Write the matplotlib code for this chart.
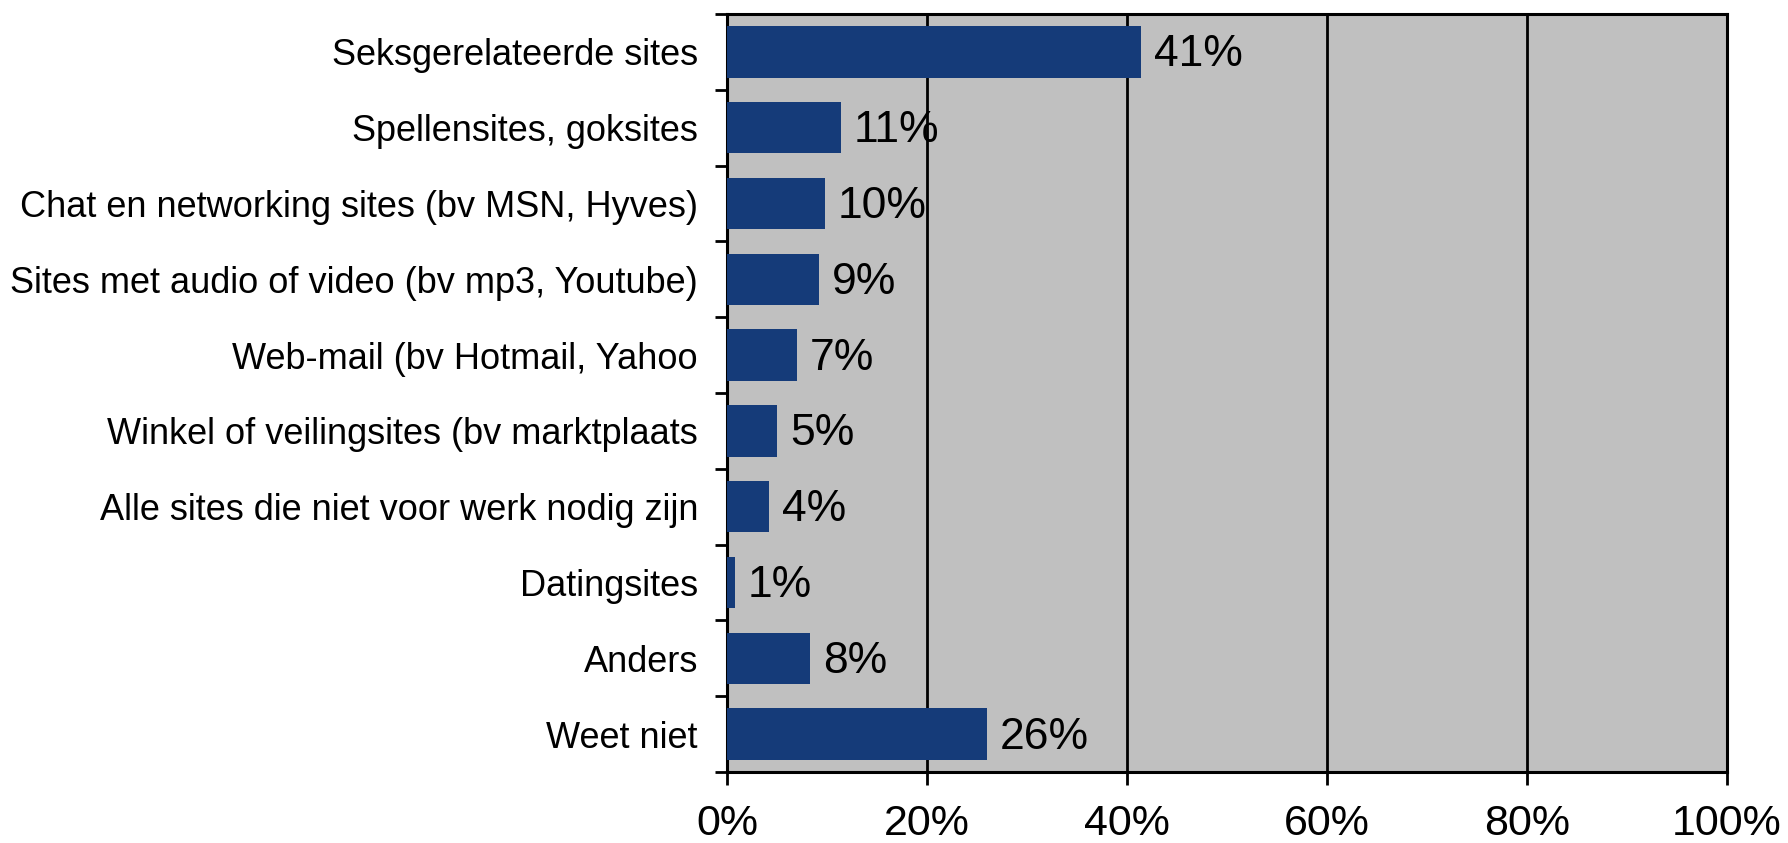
import matplotlib
matplotlib.use("Agg")
import matplotlib.pyplot as plt
import numpy as np

categories = [
    "Seksgerelateerde sites",
    "Spellensites, goksites",
    "Chat en networking sites (bv MSN, Hyves)",
    "Sites met audio of video (bv mp3, Youtube)",
    "Web-mail (bv Hotmail, Yahoo",
    "Winkel of veilingsites (bv marktplaats",
    "Alle sites die niet voor werk nodig zijn",
    "Datingsites",
    "Anders",
    "Weet niet",
]
values = [41.4, 11.4, 9.8, 9.2, 7.0, 5.0, 4.2, 0.8, 8.3, 26.0]
labels = ["41%", "11%", "10%", "9%", "7%", "5%", "4%", "1%", "8%", "26%"]
xticks = [0, 20, 40, 60, 80, 100]
xticklabels = ["0%", "20%", "40%", "60%", "80%", "100%"]

plt.rcParams['font.family'] = ['Liberation Sans', 'DejaVu Sans']

W, H = 1788, 843
fig = plt.figure(figsize=(W / 100, H / 100), dpi=100)
ax = fig.add_axes([727 / W, 1 - 772 / H, 1000 / W, 758 / H])
ax.set_facecolor('#C0C0C0')

n = len(categories)
y = np.arange(n)
ax.barh(y, values, height=0.68, color='#153B79', zorder=3)
ax.set_ylim(n - 0.5, -0.5)
ax.set_xlim(0, 100)

for yi, v, lab in zip(y, values, labels):
    ax.text(v + 1.3, yi + 0.04, lab, va='center', ha='left', fontsize=32, zorder=4)

ax.set_xticks(xticks)
ax.set_xticklabels(xticklabels, fontsize=31)
for xv in xticks[1:-1]:
    ax.axvline(xv, color='black', lw=2, zorder=2)

ax.set_yticks(y)
ax.set_yticklabels(categories, fontsize=26)
ax.set_yticks(np.arange(n + 1) - 0.5, minor=True)
ax.tick_params(axis='y', which='major', length=0, pad=29 * 0.72)
ax.tick_params(axis='y', which='minor', length=12 * 0.72, width=2, direction='out')
ax.tick_params(axis='x', length=13 * 0.72, width=2, direction='out', pad=14)

for s in ax.spines.values():
    s.set_linewidth(2.2)
    s.set_color('black')

fig.savefig('out.png', dpi=100, facecolor='white')
